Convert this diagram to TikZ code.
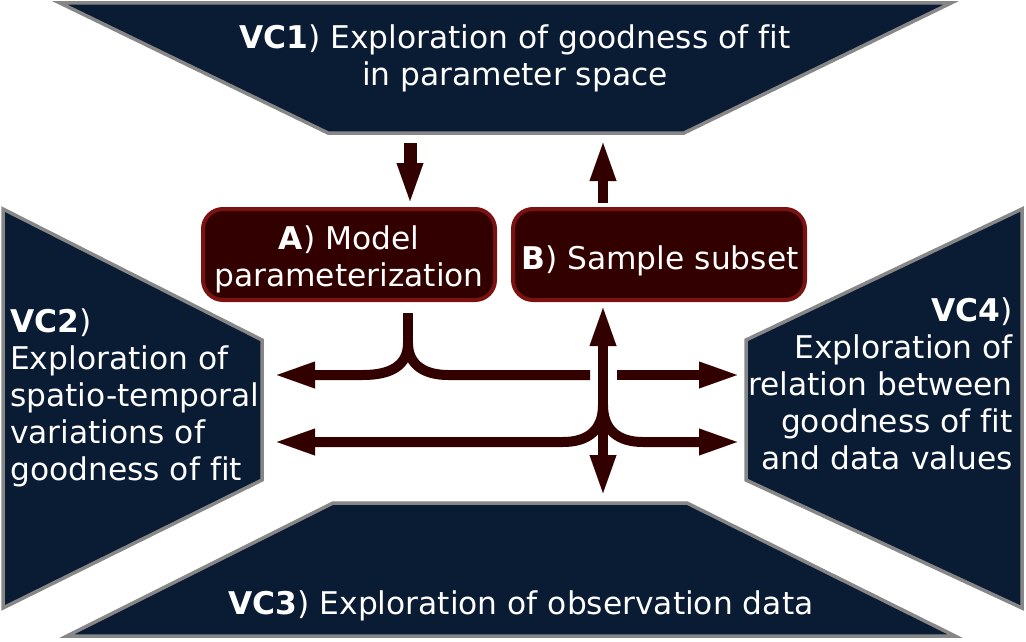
\documentclass[tikz,border=0pt]{standalone}
\usepackage{fontspec}
\setmainfont[Ligatures=CommonOff]{DejaVu Sans}
\usetikzlibrary{arrows.meta}

\definecolor{vcnavy}{RGB}{10,27,52}
\definecolor{vcedge}{RGB}{135,135,135}
\definecolor{stepfill}{RGB}{51,0,0}
\definecolor{stepedge}{RGB}{122,18,18}
\definecolor{flow}{RGB}{51,0,0}

\tikzset{flowtip/.tip={Triangle[length=38pt,width=27pt,line width=0.01pt]}}

\begin{document}
\begin{tikzpicture}[x=1pt,y=-1pt,
  panel/.style={fill=vcnavy, draw=vcedge, line width=3.5pt, line join=miter},
  vctext/.style={text=white, font=\fontsize{31.3}{37}\selectfont, inner sep=0pt},
  stepbox/.style={fill=stepfill, draw=stepedge, line width=4pt,
    rounded corners=20pt, minimum width=292pt, minimum height=91pt},
  steptext/.style={vctext, align=center},
  flowline/.style={draw=flow, line width=10pt},
]
\useasboundingbox (0,0) rectangle (1026,642);

% the four exploration panels
\path[panel] (60,3) -- (951,3) -- (684,133) -- (328,133) -- cycle;
\path[panel] (3,209) -- (262,340) -- (262,480) -- (3,608) -- cycle;
\path[panel] (1022,209) -- (746,340) -- (746,480) -- (1022,608) -- cycle;
\path[panel] (333,503) -- (687,503) -- (955,636) -- (67,636) -- cycle;

\node[vctext, align=center] (vc1) at (515,58.5)
  {\textbf{VC1}) Exploration of goodness of fit\\in parameter space};
\node[vctext, align=left, anchor=west] (vc2) at (10,397.5)
  {\textbf{VC2})\\Exploration of\\spatio-temporal\\variations of\\goodness of fit};
\node[vctext, align=right, anchor=east] (vc4) at (1013,384)
  {\textbf{VC4})\\Exploration of\\relation between\\goodness of fit\\and data values};
\node[vctext] (vc3) at (521,605.5)
  {\textbf{VC3}) Exploration of observation data};

% the two steps
\node[stepbox] (A) at (349,254.5) {};
\node[steptext] (Atext) at (349,259.5) {\textbf{A}) Model\\parameterization};
\node[stepbox] (B) at (659,254.5) {};
\node[steptext] (Btext) at (660,260.5) {\textbf{B}) Sample subset};

% connector end points
\coordinate (vc1a) at (410,143);
\coordinate (ain)  at (410,201);
\coordinate (bout) at (603,203);
\coordinate (vc1b) at (603,143);
\coordinate (aout) at (408,313);
\coordinate (fork) at (408,343);
\coordinate (up1)  at (363,375);
\coordinate (up2)  at (448,375);
\coordinate (upend) at (590,375);
\coordinate (upres) at (617,375);
\coordinate (toVC2a) at (277,375);
\coordinate (toVC4a) at (737,375);
\coordinate (toB)  at (603,308);
\coordinate (toVC3) at (603,493);
\coordinate (join) at (603,405);
\coordinate (lo1)  at (563,442);
\coordinate (lo2)  at (643,442);
\coordinate (toVC2b) at (277,442);
\coordinate (toVC4b) at (737,442);

% VC1 -> A and B -> VC1
\draw[flowline, line width=13pt, -{flowtip}] (vc1a) -- (ain);
\draw[flowline, -{flowtip}] (bout) -- (vc1b);

% A fans out to VC2 and VC4
\draw[flowline, line cap=butt] (aout) -- (fork);
\draw[flowline, -{flowtip}] (fork) .. controls (408,366) and (390,375) .. (up1) -- (toVC2a);
\draw[flowline] (fork) .. controls (408,366) and (426,375) .. (up2) -- (upend);
\draw[flowline, -{flowtip}] (upres) -- (toVC4a);

% VC2 / VC4 feed B and VC3
\draw[flowline, {flowtip}-{flowtip}] (toVC3) -- (toB);
\draw[flowline, -{flowtip}] (join) .. controls (603,430) and (588,442) .. (lo1) -- (toVC2b);
\draw[flowline, -{flowtip}] (join) .. controls (603,430) and (618,442) .. (lo2) -- (toVC4b);
\end{tikzpicture}
\end{document}
